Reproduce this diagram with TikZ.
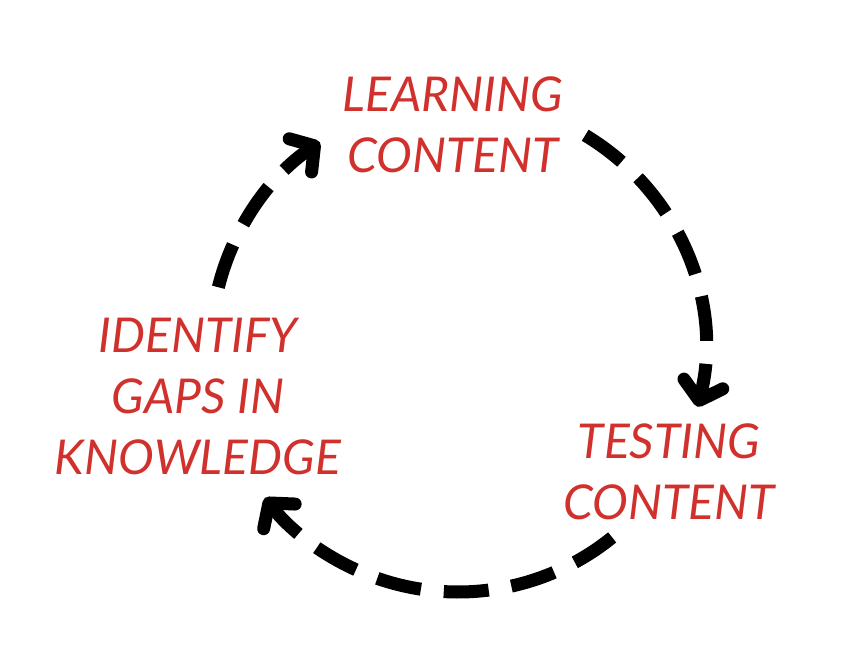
\documentclass[tikz,border=0pt]{standalone}
\usepackage{fontspec}
\setmainfont{Lato}
\usetikzlibrary{arrows.meta}
\definecolor{labelred}{RGB}{208,49,44}
\tikzset{
  lbl/.style={text=labelred, font=\fontsize{48}{61}\selectfont\itshape, align=center, inner sep=0pt},
  cyc/.style={line width=13pt, dash pattern=on 45pt off 23pt,
    -{Straight Barb[length=17pt,width=40pt,line cap=round,line join=round]}}
}
\begin{document}
\begin{tikzpicture}[x=1pt,y=-1pt]
\useasboundingbox (0,0) rectangle (860,672);
\coordinate (c) at (458,347);
\node[lbl] (learn) at (453,125) {LEARNING\\CONTENT};
\node[lbl] (test) at (669,472) {TESTING\\CONTENT};
\node[lbl] (gaps) at (198,396) {IDENTIFY\\GAPS IN\\KNOWLEDGE};
\draw[cyc] ([shift={(-166:247)}]c) arc[start angle=-166, end angle=-124, radius=247];
\draw[cyc] ([shift={(-59:247)}]c) arc[start angle=-59, end angle=14, radius=247];
\draw[cyc] ([shift={(51:245)}]c) arc[start angle=51, end angle=142, radius=245];
\end{tikzpicture}
\end{document}
